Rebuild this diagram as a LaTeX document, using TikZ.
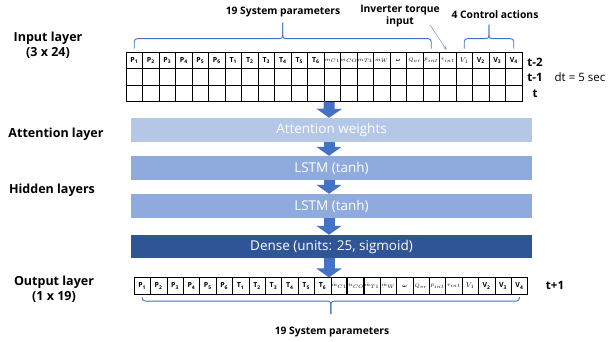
\documentclass[tikz,border=0pt]{standalone}
\usepackage{fontspec}
\setmainfont{Open Sans}
\usepackage{bm}
\usetikzlibrary{arrows.meta,calc}
\definecolor{arrowblue}{HTML}{4472C4}
\definecolor{attn}{HTML}{B4C7E7}
\definecolor{lstm}{HTML}{8FAADC}
\definecolor{dense}{HTML}{2F5597}
\definecolor{thinblue}{HTML}{7F9FCF}
\newcommand{\mc}[1]{{\fontsize{4.6}{5.5}\selectfont$#1$}}
\tikzset{
  cell/.style={draw, line width=0.6pt, minimum height=16.5pt, inner sep=0pt,
    font=\fontsize{7}{8}\selectfont\bfseries},
  bar/.style={minimum width=401pt, minimum height=24pt, inner sep=0pt, text=white,
    font=\fontsize{13.5}{15}\selectfont},
  blockarrow/.style={draw=arrowblue, line width=11pt, -{Triangle[width=25pt,length=9pt]}},
  lab/.style={font=\fontsize{12.5}{15}\selectfont\bfseries, align=center},
  small/.style={font=\fontsize{10.3}{12}\selectfont\bfseries, align=center},
  rowlab/.style={font=\fontsize{11.5}{13}\selectfont\bfseries},
  brace/.style={draw=arrowblue, line width=0.9pt, rounded corners=3pt},
  thinarrow/.style={draw=thinblue, line width=0.6pt, -{Stealth[length=4pt,width=3pt]}, shorten >=2pt}
}
\begin{document}
\begin{tikzpicture}[x=1pt,y=-1pt]
\useasboundingbox (0,0) rectangle (611,342);

% table cells
\foreach \i/\t in {1/P\textsubscript{1},2/P\textsubscript{2},3/P\textsubscript{3},4/P\textsubscript{4},5/P\textsubscript{5},6/P\textsubscript{6},
  7/T\textsubscript{1},8/T\textsubscript{2},9/T\textsubscript{3},10/T\textsubscript{4},11/T\textsubscript{5},12/T\textsubscript{6},
  13/\mc{\dot m_{C1}},14/\mc{\dot m_{CO}},15/\mc{\dot m_{T1}},16/\mc{\dot m_{W}},17/\mc{\bm{\omega}},18/\mc{Q_{er}},19/\mc{\bar p_{int}},20/\mc{\tau_{int}},
  21/{\fontsize{7}{8}\selectfont$V_1$},22/V\textsubscript{2},23/V\textsubscript{3},24/V\textsubscript{4}} {
  \node[cell, minimum width=16.5pt] (a\i) at ({126+(\i-0.5)*16.5}, 60.25) {\t};
  \node[cell, minimum width=16.5pt] (b\i) at ({126+(\i-0.5)*16.5}, 76.75) {};
  \node[cell, minimum width=16.5pt] (c\i) at ({126+(\i-0.5)*16.5}, 93.25) {};
  \node[cell, minimum width=16.4pt] (o\i) at ({134+(\i-0.5)*16.4}, 286) {\t};
}

% layer bars
\node[bar, fill=attn] (att) at (331.5,130) {Attention weights};
\node[bar, fill=lstm] (l1) at (331.5,168) {LSTM (tanh)};
\node[bar, fill=lstm] (l2) at (331.5,206) {LSTM (tanh)};
\node[bar, fill=dense, minimum height=23pt] (dn) at (331.5,246.5) {Dense (units: 25, sigmoid)};

% block arrows
\draw[blockarrow] ([xshift=-3pt]c13.south) -- ([xshift=-2.5pt]att.north);
\draw[blockarrow] ([xshift=-2.5pt]att.south) -- ([xshift=-2.5pt]l1.north);
\draw[blockarrow] ([xshift=-2.5pt]l1.south) -- ([xshift=-2.5pt]l2.north);
\draw[blockarrow] ([xshift=-2.5pt]l2.south) -- ([xshift=-2.5pt]dn.north);
\draw[blockarrow] ([xshift=-2.5pt]dn.south) -- ([xshift=-2.5pt]dn.south |- o1.north);

% left labels
\node[lab] (il) at (48,45.5) {Input layer\\(3 x 24)};
\node[lab] (al) at (56,134) {Attention layer};
\node[lab] (hl) at (52,190) {Hidden layers};
\node[lab] (ol) at (54,289.5) {Output layer\\(1 x 19)};

% top annotations
\node[small] (sp) at (283,12) {19 System parameters};
\node[small] (inv) at (400,16) {Inverter torque\\input};
\node[small] (ca) at (495,15) {4 Control actions};
\coordinate (invs) at (430,25);
\draw[thinarrow] (invs) -- (a20.north);

% braces top
\draw[brace] ($(a1.north)+(0,-3)$) |- ($(a1.north)!0.5!(a19.north)+(0,-13)$) -- ++(0,-16);
\draw[brace] ($(a19.north)+(0,-3)$) |- ($(a1.north)!0.5!(a19.north)+(0,-13)$) -- ++(0,-16);
\draw[brace] ($(a21.north)+(0,-3)$) |- ($(a21.north)!0.5!(a24.north)+(0,-13)$) -- ++(0,-14);
\draw[brace] ($(a24.north)+(0,-3)$) |- ($(a21.north)!0.5!(a24.north)+(0,-13)$) -- ++(0,-14);

% row labels
\node[rowlab] (t2) at (535,62) {t-2};
\node[rowlab] (t1) at (535,77) {t-1};
\node[rowlab] (t0) at (535,94) {t};
\node[font=\fontsize{11.5}{13}\selectfont] (dt) at (580,77) {dt = 5 sec};
\node[rowlab] (tp1) at (555,285) {t+1};

% output brace
\draw[brace] ($(o1.south)+(0,2.5)$) |- ($(o1.south)!0.5!(o24.south)+(0,6.5)$) -- ++(0,13);
\draw[brace] ($(o24.south)+(0,2.5)$) |- ($(o1.south)!0.5!(o24.south)+(0,6.5)$) -- ++(0,13);
\node[small] (sp2) at (332,332) {19 System parameters};
\end{tikzpicture}
\end{document}
